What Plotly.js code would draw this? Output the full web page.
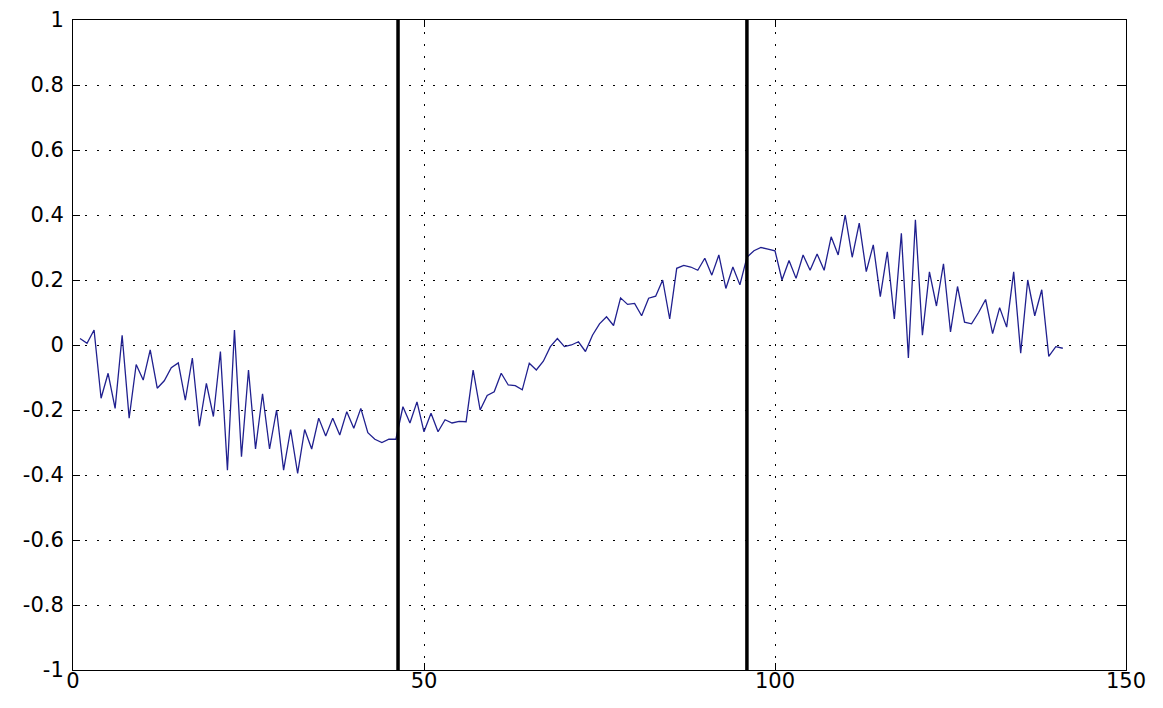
<!DOCTYPE html>
<html>
<head>
<meta charset="utf-8">
<script src="https://cdn.plot.ly/plotly-3.0.1.min.js"></script>
<style>
html,body{margin:0;padding:0;background:#fff;}
#chart{width:1163px;height:708px;}
</style>
</head>
<body>
<div id="chart"></div>
<script>
// Signal samples (sample index starts at 1)
const signalValues = [
  0.02, 0.005, 0.046, -0.164, -0.087, -0.195, 0.03, -0.225, -0.06, -0.108,
  -0.015, -0.133, -0.11, -0.07, -0.055, -0.17, -0.04, -0.25, -0.118, -0.22,
  -0.02, -0.385, 0.046, -0.344, -0.077, -0.32, -0.15, -0.32, -0.2, -0.385,
  -0.26, -0.395, -0.26, -0.32, -0.225, -0.28, -0.225, -0.277, -0.205, -0.256,
  -0.195, -0.27, -0.29, -0.30, -0.29, -0.29, -0.19, -0.24, -0.175, -0.267,
  -0.21, -0.267, -0.23, -0.24, -0.235, -0.236, -0.077, -0.2, -0.155, -0.144,
  -0.087, -0.123, -0.125, -0.138, -0.056, -0.077, -0.05, -0.005, 0.02, -0.005,
  0.0, 0.01, -0.02, 0.03, 0.065, 0.087, 0.06, 0.145, 0.125, 0.128,
  0.09, 0.144, 0.15, 0.2, 0.08, 0.236, 0.245, 0.24, 0.23, 0.267,
  0.215, 0.277, 0.174, 0.24, 0.185, 0.27, 0.29, 0.30, 0.295, 0.29,
  0.2, 0.26, 0.205, 0.277, 0.23, 0.28, 0.23, 0.333, 0.277, 0.40,
  0.27, 0.375, 0.226, 0.308, 0.149, 0.287, 0.08, 0.344, -0.04, 0.385,
  0.03, 0.225, 0.12, 0.25, 0.04, 0.18, 0.07, 0.065, 0.10, 0.14,
  0.035, 0.115, 0.055, 0.225, -0.025, 0.2, 0.09, 0.17, -0.035, -0.005,
  -0.01
];
const signalStart = 1;

// Segment boundaries (thick black vertical lines)
const boundaryX = [46.3, 96.0];
const boundaryYRange = [-1, 1];

// Axis ticks
const xTickVals = [0, 50, 100, 150];
const xTickLabels = ['0', '50', '100', '150'];
const yTickVals = [-1, -0.8, -0.6, -0.4, -0.2, 0, 0.2, 0.4, 0.6, 0.8, 1];
const yTickLabels = ['-1', '-0.8', '-0.6', '-0.4', '-0.2', '0', '0.2', '0.4', '0.6', '0.8', '1'];

const traces = [{
  type: 'scatter',
  mode: 'lines',
  y: signalValues,
  x0: signalStart,
  dx: 1,
  line: {color: '#20208f', width: 1.3},
  hoverinfo: 'skip'
}];
boundaryX.forEach(function (bx) {
  traces.push({
    type: 'scatter',
    mode: 'lines',
    x: [bx, bx],
    y: boundaryYRange,
    line: {color: '#000000', width: 3.5},
    hoverinfo: 'skip'
  });
});

const axisFont = {family: 'DejaVu Sans, Liberation Sans, sans-serif', size: 21, color: '#000'};
const commonAxis = {
  showline: true,
  linecolor: '#000',
  linewidth: 1,
  mirror: 'allticks',
  ticks: 'inside',
  ticklen: 7,
  tickwidth: 1,
  tickcolor: '#000',
  showgrid: true,
  gridcolor: '#000',
  gridwidth: 1,
  griddash: '2px,10px',
  zeroline: false,
  tickfont: axisFont,
  fixedrange: true
};

const layout = {
  width: 1163,
  height: 708,
  margin: {l: 73, r: 37, t: 20, b: 38, pad: 0},
  paper_bgcolor: '#ffffff',
  plot_bgcolor: '#ffffff',
  showlegend: false,
  xaxis: Object.assign({}, commonAxis, {
    range: [0, 150],
    tickmode: 'array',
    tickvals: xTickVals,
    ticktext: xTickLabels,
    ticklabelstandoff: -8
  }),
  yaxis: Object.assign({}, commonAxis, {
    range: [-1, 1],
    tickmode: 'array',
    tickvals: yTickVals,
    ticktext: yTickLabels,
    ticklabelstandoff: 4
  })
};

Plotly.newPlot('chart', traces, layout, {staticPlot: true, displayModeBar: false});
</script>
</body>
</html>
